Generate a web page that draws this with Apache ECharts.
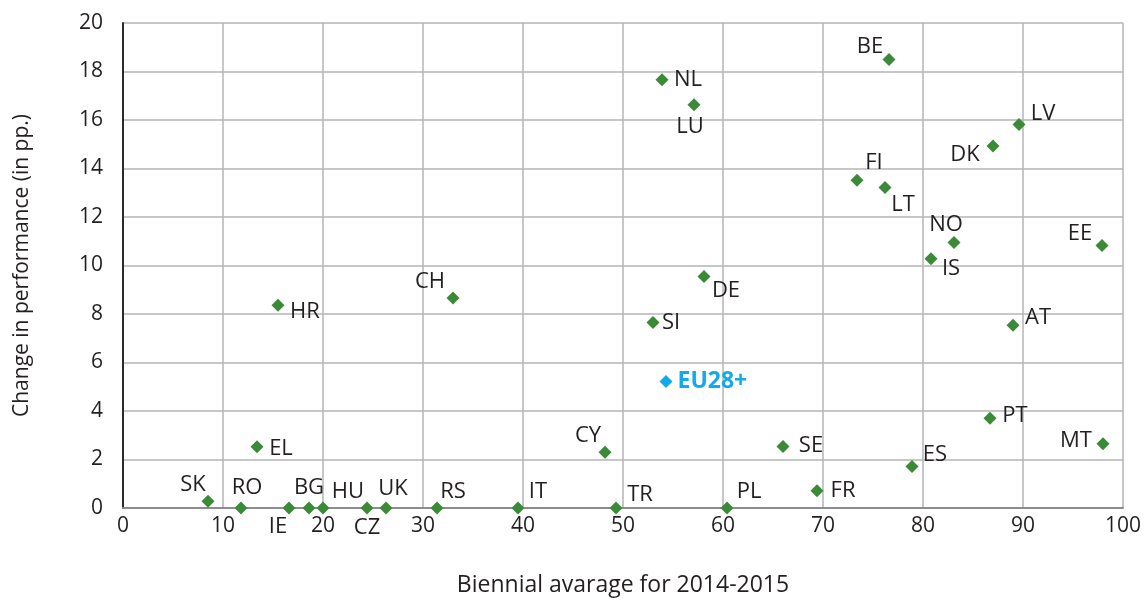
<!DOCTYPE html>
<html>
<head>
<meta charset="utf-8">
<script src="https://cdn.jsdelivr.net/npm/echarts@6/dist/echarts.min.js"></script>
<style>
  html, body { margin: 0; padding: 0; background: #fff; }
  #main { width: 1148px; height: 603px; }
</style>
</head>
<body>
<div id="main"></div>
<script>
// countries, biennial average (x) and change in performance (y)
var countries = ["SK", "RO", "IE", "BG", "HU", "CZ", "UK", "RS", "IT", "TR", "PL", "FR", "ES", "SE", "CY", "EL",
  "MT", "PT", "AT", "SI", "DE", "HR", "CH", "IS", "NO", "EE", "LT", "FI", "DK", "LV", "LU", "NL", "BE"];
var avgValues = [8.5, 11.8, 16.6, 18.6, 20.0, 24.4, 26.3, 31.4, 39.5, 49.3, 60.4, 69.4, 78.9, 66.0, 48.2, 13.4,
  98.0, 86.7, 89.0, 53.0, 58.1, 15.5, 33.0, 80.8, 83.1, 97.9, 76.2, 73.4, 87.0, 89.6, 57.1, 53.9, 76.6];
var changeValues = [0.28, 0, 0, 0, 0, 0, 0, 0, 0, 0, 0, 0.71, 1.71, 2.54, 2.30, 2.53,
  2.65, 3.70, 7.54, 7.65, 9.55, 8.36, 8.66, 10.28, 10.95, 10.82, 13.22, 13.52, 14.93, 15.81, 16.63, 17.66, 18.5];
var euName = "EU28+";
var euValue = [54.3, 5.22];

// where each label sits relative to its marker (pixels)
var labelOffset = {
  SK: [-15, -16], RO: [6, -20], IE: [-11, 19], BG: [0, -20], HU: [25, -16], CZ: [0, 20], UK: [7, -19],
  RS: [16, -16], IT: [20, -16], TR: [24, -13], PL: [22, -16], FR: [26, 0], ES: [23, -12], SE: [28, -1],
  CY: [-17, -16], EL: [24, 2], MT: [-27, -3], PT: [25, -3], AT: [25, -7], SI: [18, 0], DE: [22, 14],
  HR: [27, 6], CH: [-23, -16], IS: [20, 10], NO: [-8, -18], EE: [-22, -12], LT: [18, 17], FI: [17, -17],
  DK: [-28, 9], LV: [24, -11], LU: [-4, 22], NL: [26, 0], BE: [-19, -13]
};

var points = countries.map(function (c, i) {
  return {
    name: c,
    value: [avgValues[i], changeValues[i]],
    label: { offset: labelOffset[c] }
  };
});

var textColor = "#231f20";
var font = "'Open Sans', 'Noto Sans', sans-serif";

var myChart = echarts.init(document.getElementById("main"));
var option = {
  animation: false,
  grid: { left: 123, right: 25, top: 23, bottom: 95, containLabel: false, outerBoundsMode: "none" },
  xAxis: {
    type: "value",
    min: 0,
    max: 100,
    interval: 10,
    name: "Biennial avarage for 2014-2015",
    nameLocation: "middle",
    nameGap: 66,
    nameTextStyle: { color: textColor, fontSize: 23, fontFamily: font },
    axisLine: { show: true, lineStyle: { color: "#8c8c8c", width: 2 } },
    axisTick: { show: false },
    axisLabel: { color: textColor, fontSize: 21, fontFamily: font, margin: 8 },
    splitLine: { show: true, lineStyle: { color: "#b4b4b4", width: 1.5 } }
  },
  yAxis: {
    type: "value",
    min: 0,
    max: 20,
    interval: 2,
    name: "Change in performance (in pp.)",
    nameLocation: "middle",
    nameGap: 90,
    nameTextStyle: { color: textColor, fontSize: 21, fontFamily: font },
    axisLine: { show: true, lineStyle: { color: "#2b2b2b", width: 2 } },
    axisTick: { show: false },
    axisLabel: { color: textColor, fontSize: 21, fontFamily: font, margin: 20 },
    splitLine: { show: true, lineStyle: { color: "#b4b4b4", width: 1.5 } }
  },
  series: [
    {
      type: "scatter",
      symbol: "diamond",
      symbolSize: [13, 13],
      itemStyle: { color: "#3b8a38", opacity: 1 },
      label: {
        show: true,
        position: "inside",
        formatter: "{b}",
        color: textColor,
        fontSize: 22,
        fontFamily: font
      },
      data: points
    },
    {
      type: "scatter",
      symbol: "diamond",
      symbolSize: [13, 13],
      itemStyle: { color: "#12aaec", opacity: 1 },
      label: {
        show: true,
        position: "right",
        distance: 5,
        formatter: "{b}",
        color: "#12aaec",
        fontSize: 23,
        fontWeight: "bold",
        fontFamily: font
      },
      data: [{ name: euName, value: euValue }]
    }
  ]
};
myChart.setOption(option);
</script>
</body>
</html>
